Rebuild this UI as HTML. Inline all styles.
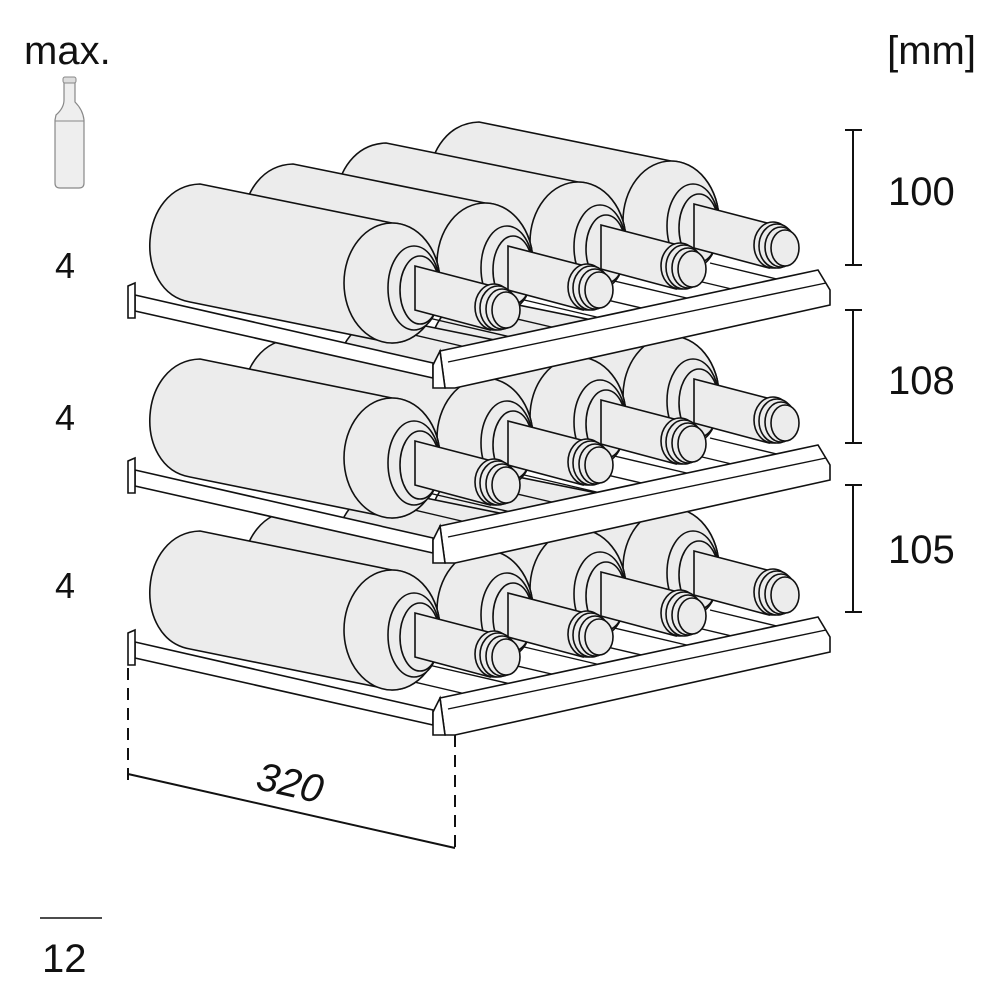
<!DOCTYPE html>
<html><head><style>
html,body{margin:0;padding:0;background:#fff;}
svg{display:block;}
text{font-family:"Liberation Sans","DejaVu Sans",sans-serif;fill:#111;}
</style></head><body>
<svg width="1000" height="1000" viewBox="0 0 1000 1000" xmlns="http://www.w3.org/2000/svg">
<defs>
<g id="bottle" stroke="#111" stroke-width="1.6" fill="#ececec">
  <path d="M200,184 L392,223 A48,60 0 0 1 392,343 L190,302 C132,292 138,186 200,184 Z"/>
  <ellipse cx="392" cy="283" rx="48" ry="60"/>
  <ellipse cx="414" cy="288" rx="26" ry="42"/>
  <ellipse cx="420" cy="290" rx="20" ry="34"/>
  <path d="M415,266 L492,286 L490,330 L415,310 Z"/>
  <ellipse cx="494" cy="307" rx="19" ry="23"/>
  <ellipse cx="498" cy="308" rx="18" ry="22"/>
  <ellipse cx="502" cy="309" rx="16" ry="20"/>
  <ellipse cx="506" cy="310" rx="14" ry="18"/>
</g>
<g id="shelf">
  <g stroke="#111" stroke-width="1.4">
    <line x1="470" y1="348" x2="380" y2="327"/>
    <line x1="515" y1="338" x2="420" y2="316"/>
    <line x1="560" y1="329" x2="470" y2="308"/>
    <line x1="605" y1="319" x2="520" y2="299"/>
    <line x1="650" y1="310" x2="560" y2="289"/>
    <line x1="695" y1="300" x2="610" y2="280"/>
    <line x1="740" y1="291" x2="660" y2="272"/>
    <line x1="785" y1="281" x2="710" y2="263"/>
  </g>
  <use href="#bottle" transform="translate(279,-62)"/>
  <use href="#bottle" transform="translate(186,-41)"/>
  <use href="#bottle" transform="translate(93,-20)"/>
  <use href="#bottle"/>
  <path d="M135,295 L433,363 L433,378 L135,311 Z" fill="#fff" stroke="#111" stroke-width="1.6"/>
  <path d="M128,286 L135,283 L135,318 L128,318 Z" fill="#fff" stroke="#111" stroke-width="1.6"/>
  <path d="M440,351 L818,270 L830,290 L830,305 L455,388 L445,388 Z" fill="#fff" stroke="#111" stroke-width="1.6"/>
  <line x1="448" y1="362" x2="826" y2="283" stroke="#111" stroke-width="1.4"/>
  <path d="M440,351 L445,388 L433,388 L433,365 Z" fill="#fff" stroke="#111" stroke-width="1.6"/>
</g>
</defs>

<text x="24" y="64" font-size="40">max.</text>
<text x="976" y="64" font-size="40" text-anchor="end">[mm]</text>

<path d="M64,80 L64,100 Q64,108 56,115 L55,120 L55,183 Q55,188 60,188 L79,188 Q84,188 84,183 L84,120 Q83,110 75,102 L75,80 Z" fill="#eee" stroke="#888" stroke-width="1.2"/>
<rect x="63" y="77" width="13" height="6" rx="2" fill="#ddd" stroke="#888" stroke-width="1"/>
<line x1="55" y1="121" x2="84" y2="121" stroke="#888" stroke-width="1"/>

<text x="55" y="278" font-size="36">4</text>
<text x="55" y="430" font-size="36">4</text>
<text x="55" y="598" font-size="36">4</text>

<use href="#shelf" transform="translate(0,347)"/>
<use href="#shelf" transform="translate(0,175)"/>
<use href="#shelf"/>

<g stroke="#111" stroke-width="2">
  <line x1="853" y1="130" x2="853" y2="265"/><line x1="845" y1="130" x2="862" y2="130"/><line x1="845" y1="265" x2="862" y2="265"/>
  <line x1="853" y1="310" x2="853" y2="443"/><line x1="845" y1="310" x2="862" y2="310"/><line x1="845" y1="443" x2="862" y2="443"/>
  <line x1="853" y1="485" x2="853" y2="612"/><line x1="845" y1="485" x2="862" y2="485"/><line x1="845" y1="612" x2="862" y2="612"/>
</g>
<text x="888" y="205" font-size="40">100</text>
<text x="888" y="394" font-size="40">108</text>
<text x="888" y="563" font-size="40">105</text>

<g stroke="#111" stroke-width="2">
  <line x1="128" y1="668" x2="128" y2="782" stroke-dasharray="12,8"/>
  <line x1="455" y1="735" x2="455" y2="855" stroke-dasharray="12,8"/>
  <line x1="128" y1="774" x2="455" y2="848"/>
</g>
<text x="0" y="0" font-size="40" font-style="italic" text-anchor="middle" transform="translate(287,796) rotate(12.7)">320</text>

<line x1="40" y1="918" x2="102" y2="918" stroke="#111" stroke-width="1.5"/>
<text x="42" y="972" font-size="40">12</text>
</svg>
</body></html>
